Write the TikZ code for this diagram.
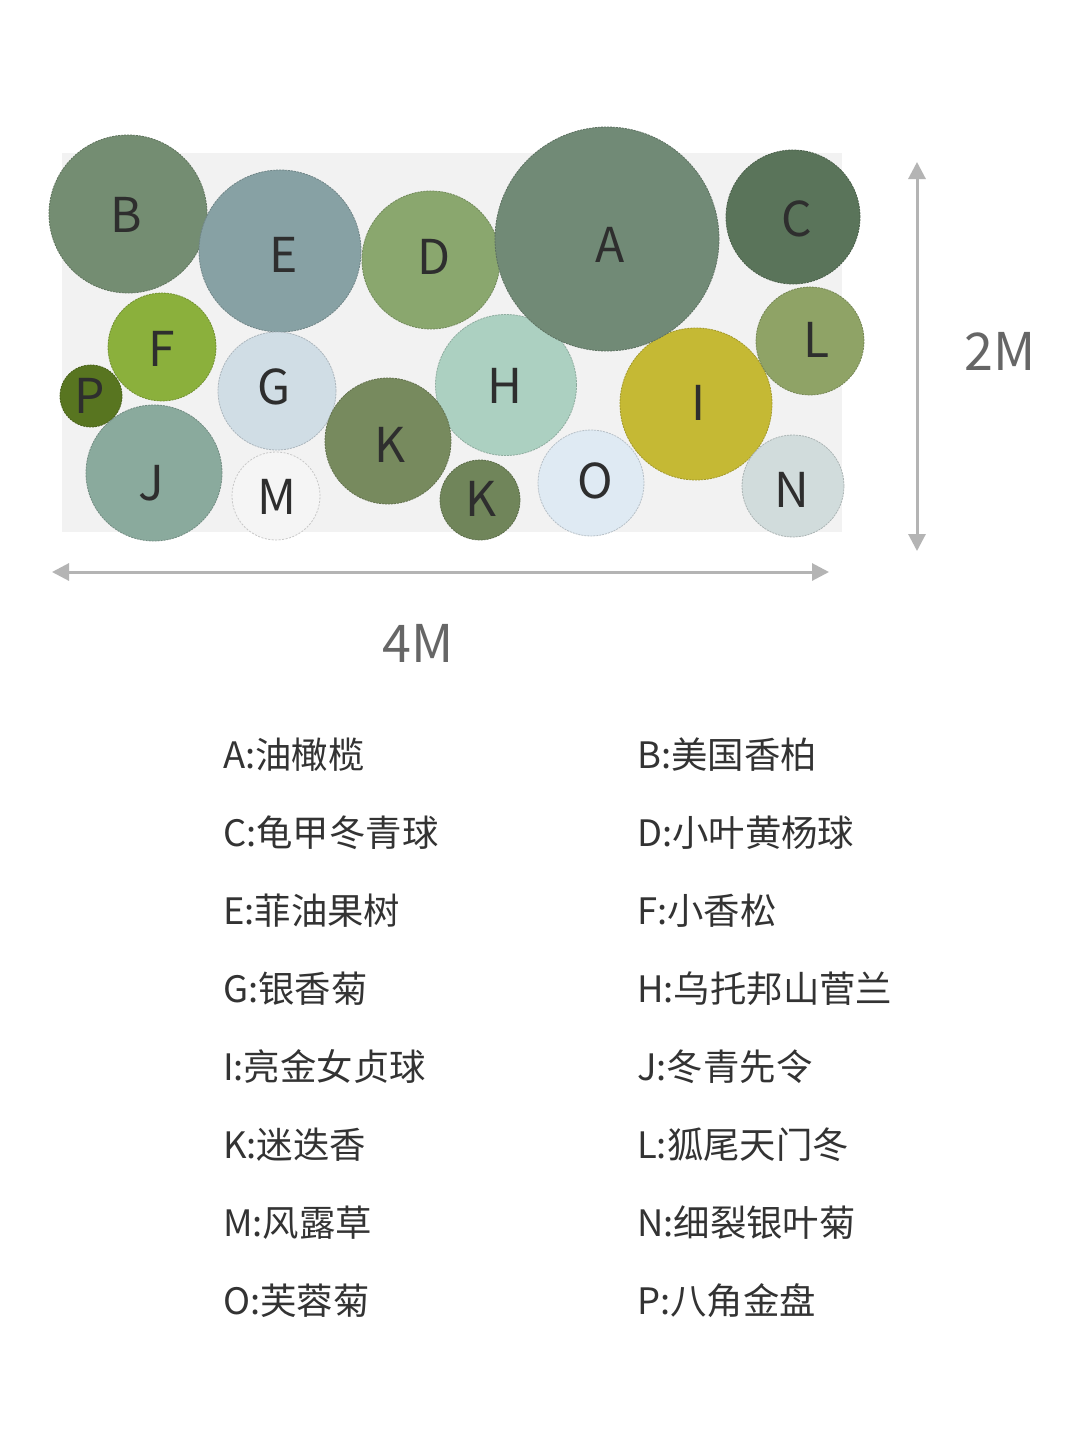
\documentclass[tikz,border=0pt]{standalone}
\usepackage{fontspec}
\setmainfont{Noto Sans CJK SC}
\usetikzlibrary{arrows.meta}
\definecolor{bgrect}{HTML}{F2F2F2}
\definecolor{cA}{HTML}{718A76}
\definecolor{cB}{HTML}{748D72}
\definecolor{cC}{HTML}{5A745A}
\definecolor{cD}{HTML}{8AA76E}
\definecolor{cE}{HTML}{87A1A4}
\definecolor{cF}{HTML}{8BB03C}
\definecolor{cG}{HTML}{D0DDE5}
\definecolor{cH}{HTML}{ACD0C1}
\definecolor{cI}{HTML}{C5B934}
\definecolor{cJ}{HTML}{8AAA9D}
\definecolor{cKa}{HTML}{778A5E}
\definecolor{cKb}{HTML}{70855A}
\definecolor{cL}{HTML}{8FA366}
\definecolor{cM}{HTML}{F5F5F5}
\definecolor{cN}{HTML}{D1DCDC}
\definecolor{cO}{HTML}{DFEAF3}
\definecolor{cP}{HTML}{587520}
\definecolor{letterc}{HTML}{2E2E2E}
\definecolor{dimc}{HTML}{B4B4B4}
\definecolor{dimtext}{HTML}{666666}
\definecolor{legendc}{HTML}{333333}
\tikzset{
  plant/.style n args={2}{circle, inner sep=0pt, minimum size=#2*2pt,
    fill=#1, draw=#1!82!black, line width=0.8pt, dash pattern=on 2pt off 1pt},
  letter/.style={text=letterc, font=\fontsize{48}{56}\selectfont, inner sep=0pt},
  dimarrow/.style={draw=dimc, line width=3pt,
    {Triangle[length=17pt,width=17pt]}-{Triangle[length=17pt,width=17pt]}},
  dimlabel/.style={text=dimtext, font=\fontsize{52}{60}\selectfont, inner sep=0pt, anchor=base},
  legend/.style={text=legendc, font=\fontsize{36.4}{44}\selectfont, inner sep=0pt, anchor=base west}
}
\begin{document}
\begin{tikzpicture}[x=1pt,y=-1pt]
\useasboundingbox (0,0) rectangle (1080,1440);
\fill[white] (0,0) rectangle (1080,1440);
\fill[bgrect] (62,153) rectangle (842,532);
% circles
\node[plant={cB}{79}] (cirB) at (128,214) {};
\node[plant={cE}{81}] (cirE) at (280,251) {};
\node[plant={cD}{69}] (cirD) at (431,260) {};
\node[plant={cF}{54}] (cirF) at (162,347) {};
\node[plant={cP}{31}] (cirP) at (91,396) {};
\node[plant={cG}{59}] (cirG) at (277,391) {};
\node[plant={cH}{70.5}] (cirH) at (506,385) {};
\node[plant={cJ}{68}] (cirJ) at (154,473) {};
\node[circle, inner sep=0pt, minimum size=88pt, fill=cM, draw=black!22, line width=0.8pt, dash pattern=on 2pt off 1.5pt] (cirM) at (276,496) {};
\node[plant={cKa}{63}] (cirK1) at (388,441) {};
\node[plant={cKb}{40}] (cirK2) at (480,500) {};
\node[plant={cO}{53}] (cirO) at (591,483) {};
\node[plant={cI}{76}] (cirI) at (696,404) {};
\node[plant={cN}{51}] (cirN) at (793,486) {};
\node[plant={cL}{54}] (cirL) at (810,341) {};
\node[plant={cA}{112}] (cirA) at (607,239) {};
\node[plant={cC}{67}] (cirC) at (793,217) {};
% letters
\node[letter] (lB) at (126,215) {B};
\node[letter] (lE) at (284,255) {E};
\node[letter] (lD) at (434,257) {D};
\node[letter] (lA) at (610,245) {A};
\node[letter] (lC) at (797,219) {C};
\node[letter] (lF) at (162,349) {F};
\node[letter] (lP) at (90,396) {P};
\node[letter] (lG) at (274,387) {G};
\node[letter] (lH) at (505,386) {H};
\node[letter] (lL) at (817,340) {L};
\node[letter] (lI) at (699,403) {I};
\node[letter] (lJ) at (151,483) {J};
\node[letter] (lM) at (277,497) {M};
\node[letter] (lK1) at (390,445) {K};
\node[letter] (lK2) at (481,499) {K};
\node[letter] (lO) at (595,481) {O};
\node[letter] (lN) at (792,490) {N};
% dimension arrows
\coordinate (hl) at (52,572);
\coordinate (hr) at (829,572);
\coordinate (vt) at (917,162);
\coordinate (vb) at (917,551);
\draw[dimarrow] (hl) -- (hr);
\draw[dimarrow] (vt) -- (vb);
\node[dimlabel] (w4) at (418,662) {4M};
\node[dimlabel] (h2) at (1000,370) {2M};
% legend
\node[legend] (gA) at (223,768) {A:油橄榄};
\node[legend] (gB) at (637,768) {B:美国香柏};
\node[legend] (gC) at (223,846) {C:龟甲冬青球};
\node[legend] (gD) at (637,846) {D:小叶黄杨球};
\node[legend] (gE) at (223,924) {E:菲油果树};
\node[legend] (gF) at (637,924) {F:小香松};
\node[legend] (gG) at (223,1002) {G:银香菊};
\node[legend] (gH) at (637,1002) {H:乌托邦山菅兰};
\node[legend] (gI) at (223,1080) {I:亮金女贞球};
\node[legend] (gJ) at (637,1080) {J:冬青先令};
\node[legend] (gK) at (223,1158) {K:迷迭香};
\node[legend] (gL) at (637,1158) {L:狐尾天门冬};
\node[legend] (gM) at (223,1236) {M:风露草};
\node[legend] (gN) at (637,1236) {N:细裂银叶菊};
\node[legend] (gO) at (223,1314) {O:芙蓉菊};
\node[legend] (gP) at (637,1314) {P:八角金盘};
\end{tikzpicture}
\end{document}
